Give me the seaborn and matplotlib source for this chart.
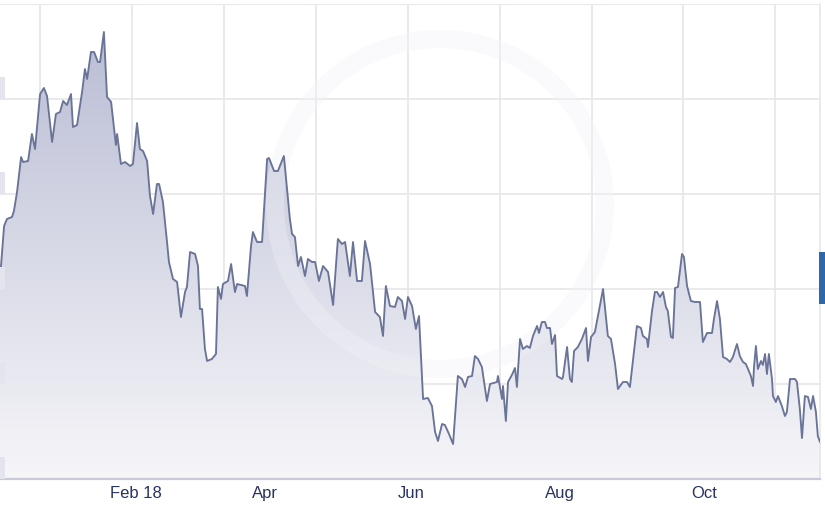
import matplotlib.pyplot as plt
import matplotlib.dates as mdates
import matplotlib.transforms as mtransforms
import numpy as np
import pandas as pd
import seaborn as sns
from matplotlib.colors import LinearSegmentedColormap
from matplotlib.patches import Ellipse, Rectangle

# Data: days since 20 Dec 2017 and the rate
start = pd.Timestamp('2017-12-20')
days = [0.0, 1.7, 2.9, 5.0, 5.8, 7.1, 8.8, 9.6, 11.7, 13.3,
        14.6, 16.7, 18.3, 19.6, 21.7, 23.3, 25.0, 26.3, 27.9, 29.6,
        30.4, 32.1, 34.2, 35.4, 36.3, 37.9, 39.2, 40.8, 41.7, 43.3,
        44.6, 46.3, 48.3, 48.8, 50.4, 52.1, 54.2, 55.4, 57.1, 58.3,
        59.6, 61.3, 62.5, 63.8, 65.4, 66.3, 67.9, 69.6, 70.4, 72.1,
        73.8, 75.4, 77.1, 77.9, 79.2, 81.3, 82.5, 83.3, 84.2, 85.4,
        86.3, 88.3, 90.0, 90.8, 92.1, 92.9, 95.0, 96.3, 97.9, 98.8,
        102.1, 102.9, 104.6, 105.4, 107.1, 109.2, 111.3, 112.1, 114.2, 115.8,
        118.3, 119.6, 120.8, 121.7, 122.9, 124.2, 125.4, 127.1, 128.3, 130.0,
        131.3, 132.9, 134.6, 136.7, 138.8, 140.8, 142.5, 143.8, 145.8, 147.1,
        148.8, 150.8, 152.1, 154.2, 156.3, 158.3, 159.6, 160.8, 162.5, 164.6,
        165.8, 167.5, 168.8, 170.0, 171.7, 173.3, 174.6, 176.3, 178.3, 180.0,
        181.3, 182.5, 184.2, 185.4, 187.1, 188.8, 190.8, 192.5, 193.8, 195.0,
        196.7, 197.9, 199.2, 200.8, 202.9, 204.2, 207.1, 207.5, 209.2, 209.6,
        210.8, 211.7, 213.3, 214.6, 215.4, 216.7, 217.9, 219.6, 220.8, 222.1,
        223.8, 224.6, 225.8, 227.1, 227.9, 229.2, 230.0, 231.3, 232.1, 234.2,
        234.6, 236.3, 237.5, 238.3, 239.2, 240.8, 242.5, 244.2, 245.0, 246.3,
        247.9, 251.3, 253.3, 254.6, 256.3, 257.5, 259.6, 261.3, 262.5, 264.2,
        265.4, 267.1, 267.9, 269.6, 270.0, 271.7, 272.9, 273.8, 275.0, 276.3,
        277.5, 278.3, 279.6, 280.4, 281.3, 282.5, 284.2, 285.0, 286.3, 287.9,
        289.6, 291.7, 292.9, 294.6, 296.7, 297.5, 298.8, 300.0, 301.3, 302.9,
        304.2, 305.4, 307.1, 308.3, 309.6, 310.8, 311.7, 312.9, 313.8, 314.2,
        315.0, 315.8, 317.1, 317.9, 318.8, 319.6, 320.4, 321.7, 322.1, 323.3,
        324.2, 325.8, 327.1, 327.9, 329.2, 331.3, 332.1, 333.3, 334.2, 335.4,
        336.7, 337.9, 338.8, 340.0, 340.8, 341.7]
rates = [1.1800, 1.1906, 1.1920, 1.1924, 1.1936, 1.1974, 1.2044, 1.2034, 1.2036, 1.2090,
         1.2060, 1.2170, 1.2182, 1.2166, 1.2074, 1.2130, 1.2134, 1.2156, 1.2148, 1.2170,
         1.2104, 1.2108, 1.2174, 1.2220, 1.2200, 1.2254, 1.2254, 1.2234, 1.2234, 1.2294,
         1.2164, 1.2154, 1.2068, 1.2090, 1.2030, 1.2034, 1.2026, 1.2030, 1.2112, 1.2060,
         1.2056, 1.2036, 1.1966, 1.1930, 1.1990, 1.1990, 1.1954, 1.1874, 1.1834, 1.1800,
         1.1794, 1.1724, 1.1774, 1.1784, 1.1854, 1.1850, 1.1826, 1.1740, 1.1740, 1.1660,
         1.1636, 1.1640, 1.1650, 1.1784, 1.1760, 1.1790, 1.1796, 1.1830, 1.1774, 1.1790,
         1.1786, 1.1766, 1.1866, 1.1894, 1.1874, 1.1874, 1.2040, 1.2042, 1.2016, 1.2016,
         1.2046, 1.1980, 1.1920, 1.1890, 1.1884, 1.1826, 1.1844, 1.1806, 1.1840, 1.1834,
         1.1834, 1.1796, 1.1826, 1.1814, 1.1748, 1.1880, 1.1870, 1.1874, 1.1806, 1.1874,
         1.1796, 1.1796, 1.1876, 1.1830, 1.1734, 1.1724, 1.1686, 1.1786, 1.1746, 1.1744,
         1.1764, 1.1756, 1.1720, 1.1764, 1.1746, 1.1700, 1.1726, 1.1560, 1.1562, 1.1546,
         1.1494, 1.1476, 1.1510, 1.1508, 1.1490, 1.1470, 1.1606, 1.1600, 1.1584, 1.1604,
         1.1606, 1.1646, 1.1640, 1.1624, 1.1556, 1.1590, 1.1594, 1.1606, 1.1560, 1.1586,
         1.1516, 1.1594, 1.1608, 1.1622, 1.1584, 1.1680, 1.1660, 1.1666, 1.1662, 1.1686,
         1.1706, 1.1692, 1.1714, 1.1714, 1.1702, 1.1702, 1.1670, 1.1688, 1.1606, 1.1600,
         1.1604, 1.1664, 1.1600, 1.1594, 1.1656, 1.1664, 1.1680, 1.1702, 1.1636, 1.1684,
         1.1694, 1.1780, 1.1686, 1.1680, 1.1630, 1.1580, 1.1594, 1.1594, 1.1584, 1.1656,
         1.1706, 1.1702, 1.1686, 1.1680, 1.1664, 1.1736, 1.1774, 1.1774, 1.1764, 1.1774,
         1.1744, 1.1736, 1.1684, 1.1682, 1.1782, 1.1784, 1.1850, 1.1844, 1.1786, 1.1756,
         1.1754, 1.1754, 1.1674, 1.1692, 1.1692, 1.1720, 1.1756, 1.1720, 1.1644, 1.1640,
         1.1634, 1.1644, 1.1670, 1.1646, 1.1634, 1.1630, 1.1620, 1.1606, 1.1586, 1.1624,
         1.1666, 1.1620, 1.1636, 1.1628, 1.1650, 1.1610, 1.1650, 1.1600, 1.1566, 1.1554,
         1.1566, 1.1546, 1.1526, 1.1534, 1.1600, 1.1600, 1.1594, 1.1540, 1.1482, 1.1566,
         1.1564, 1.1540, 1.1566, 1.1534, 1.1486, 1.1474]

month_ticks = ['2018-02-01', '2018-04-01', '2018-06-01', '2018-08-01', '2018-10-01']
month_labels = ['Feb 18', 'Apr', 'Jun', 'Aug', 'Oct']

df = pd.DataFrame({'date': start + pd.to_timedelta(days, unit='D'), 'rate': rates})

y_low, y_high = 1.140, 1.235
x_end = start + pd.Timedelta(hours=341.7 * 24)

sns.set_theme(style='white')
plt.rcParams['font.family'] = ['Liberation Sans', 'DejaVu Sans']

fig = plt.figure(figsize=(8.25, 5.1), dpi=100)
ax = fig.add_axes([0, 30 / 510, 820 / 825, 475 / 510])

# gradient fill under the line
poly = ax.fill_between(df['date'], df['rate'], y_low, facecolor='none', edgecolor='none')
cmap = LinearSegmentedColormap.from_list('xe', ['#f6f6f9', '#b6bad2'])
x0 = mdates.date2num(start)
x1 = mdates.date2num(x_end)
img = ax.imshow(np.linspace(1, 0, 256).reshape(-1, 1), cmap=cmap, vmin=0, vmax=1,
                aspect='auto', extent=[x0, x1, y_low, y_high], origin='upper', zorder=1)
img.set_clip_path(poly.get_paths()[0], transform=ax.transData)

sns.lineplot(data=df, x='date', y='rate', ax=ax, color='#6a7398', lw=1.35, zorder=3,
             solid_joinstyle='round')

ax.set_xlim(start, x_end)
ax.set_ylim(y_low, y_high)

# grid
ax.set_yticks(np.arange(y_low, y_high + 0.001, 0.019))
ax.set_xticks(start + pd.to_timedelta(np.arange(16.7, 340, 38.3), unit='D'), minor=True)
ax.set_xticks(pd.to_datetime(month_ticks))
ax.set_xticklabels([])
ax.set_yticklabels([])
ax.grid(which='major', axis='y', color='#e6e6ea', lw=1.2, zorder=0)
ax.grid(which='minor', axis='x', color='#e6e6ea', lw=1.2, zorder=0)
ax.grid(which='major', axis='x', visible=False)
ax.set_axisbelow(True)
ax.tick_params(axis='y', length=0)
ax.tick_params(axis='x', which='minor', length=0)
ax.tick_params(axis='x', which='major', length=21.6, width=1, color='#dfe0e8', direction='out')
ax.set_xlabel('')
ax.set_ylabel('')

for side in ['left', 'top']:
    ax.spines[side].set_visible(False)
ax.spines['right'].set_color('#e6e6ea')
ax.spines['right'].set_linewidth(1.2)
ax.spines['bottom'].set_color('#c8cadb')
ax.spines['bottom'].set_linewidth(1.6)

# month labels to the right of each tick
lab_trans = mtransforms.offset_copy(ax.get_xaxis_transform(), fig=fig, x=7, y=-14, units='dots')
for d, lab in zip(pd.to_datetime(month_ticks), month_labels):
    ax.text(d, 0, lab, transform=lab_trans, ha='left', va='center',
            fontsize=12, color='#283265')

# cropped y-label boxes on the left edge
box_trans = mtransforms.blended_transform_factory(ax.transAxes, ax.transData)
for g in np.arange(y_low, y_high - 0.001, 0.019):
    ax.add_patch(Rectangle((-0.01, g), 5 / 820 + 0.01, 0.0044, transform=box_trans,
                           facecolor='#e3e4ee', edgecolor='none', zorder=5, clip_on=False))

# faint watermark ring
ax.add_patch(Ellipse((440 / 820, 275 / 475), 330 / 820, 330 / 475, transform=ax.transAxes,
                     facecolor='none', edgecolor='#f3f3f7', lw=13, alpha=0.35, zorder=2))

# current value marker on the right edge
fig.patches.append(Rectangle((819 / 825, 205 / 510), 6 / 825, 52 / 510,
                             transform=fig.transFigure, facecolor='#2d66a9',
                             edgecolor='none', zorder=6))

fig.savefig('out.png', dpi=100)
